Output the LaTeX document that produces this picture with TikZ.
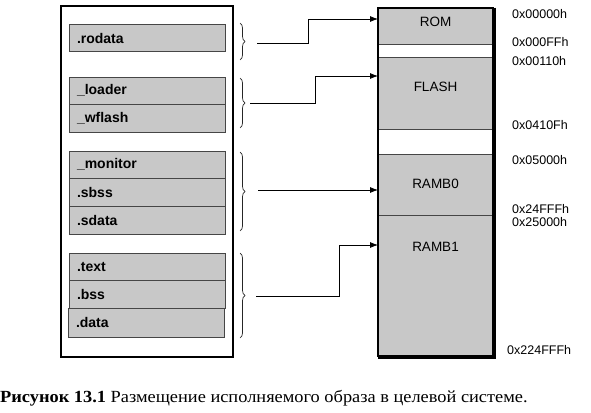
\documentclass[tikz,border=0pt]{standalone}
\usepackage{fontspec}
\setmainfont{Liberation Sans}
\newfontfamily\capfont[FakeStretch=1.08]{Liberation Serif}
\usetikzlibrary{decorations.pathreplacing,arrows.meta}
\definecolor{boxgray}{RGB}{200,200,200}
\definecolor{edgegray}{RGB}{70,70,70}
\begin{document}
\begin{tikzpicture}[x=1pt,y=-1pt,
  sect/.style={draw=edgegray,line width=1pt,fill=boxgray,minimum height=27pt,
    text width=140pt,align=left,inner xsep=8pt,inner ysep=0pt,
    font=\fontsize{14}{16}\selectfont\bfseries,anchor=center},
  memblk/.style={draw=edgegray,line width=0.8pt,fill=boxgray,minimum width=115pt,inner sep=0pt},
  gapblk/.style={draw=edgegray,line width=0.8pt,fill=white,minimum width=115pt,inner sep=0pt},
  memlbl/.style={font=\fontsize{13.5}{15}\selectfont,inner sep=0pt},
  addr/.style={font=\fontsize{12.5}{14}\selectfont,anchor=west,inner sep=0pt},
  brc/.style={decorate,decoration={brace,amplitude=5pt},line width=0.7pt,black!85},
  arr/.style={line width=0.8pt,-{Latex[length=8pt,width=6pt]}}]
\useasboundingbox (0,0) rectangle (591,412);

% left container
\node[draw,line width=2pt,minimum width=172pt,minimum height=351pt,inner sep=0pt] (img) at (147,181.5) {};

% sections
\node[sect,minimum height=27pt] (rodata) at (147,38.5) {.rodata};
\node[sect,minimum height=27pt] (loader) at (147,90.5) {\_loader};
\node[sect,minimum height=28pt] (wflash) at (147,118) {\_wflash};
\node[sect,minimum height=27pt] (monitor) at (147,164.5) {\_monitor};
\node[sect,minimum height=28pt] (sbss) at (147,192) {.sbss};
\node[sect,minimum height=28pt] (sdata) at (147,220) {.sdata};
\node[sect,minimum height=27pt] (text) at (147,266.5) {.text};
\node[sect,minimum height=28pt] (bss) at (147,294) {.bss};
\node[sect,minimum height=29pt] (data) at (146,322.5) {.data};

% braces
\draw[brc] (240,23) -- (240,60);
\draw[brc] (240,78) -- (240,128);
\draw[brc] (240,152) -- (240,231);
\draw[brc] (240,253) -- (240,338);
\coordinate (b1) at (257,43);
\coordinate (b2) at (250,103);
\coordinate (b3) at (258,190);
\coordinate (b4) at (256,296);

% memory map
\node[memblk,minimum height=36pt] (rom) at (435.5,26) {};
\node[gapblk,minimum height=13pt] (gap1) at (435.5,50.5) {};
\node[memblk,minimum height=72pt] (flash) at (435.5,93) {};
\node[gapblk,minimum height=25pt] (gap2) at (435.5,141.5) {};
\node[memblk,minimum height=61pt] (ramb0) at (435.5,184.5) {};
\node[memblk,minimum height=141pt] (ramb1) at (435.5,285.5) {};
\draw[line width=2pt] (rom.north west) rectangle (ramb1.south east);
\draw[line width=1.5pt] ([xshift=1.5pt]rom.north east) -- ([xshift=1.5pt,yshift=-1.5pt]ramb1.south east) -- ([yshift=-1.5pt]ramb1.south west);

\node[memlbl] (lrom) at (435.5,22) {ROM};
\node[memlbl] (lflash) at (435.5,87) {FLASH};
\node[memlbl] (lramb0) at (435.5,184) {RAMB0};
\node[memlbl] (lramb1) at (435.5,247) {RAMB1};

\coordinate (e1) at (378,19);
\coordinate (e2) at (378,76);
\coordinate (e3) at (378,190);
\coordinate (e4) at (378,245);

\draw[arr] (b1) -- (308,43) |- (e1);
\draw[arr] (b2) -- (315,103) |- (e2);
\draw[arr] (b3) -- (e3);
\draw[arr] (b4) -- (339,296) |- (e4);

% addresses
\node[addr] (a1) at (512,14) {0x00000h};
\node[addr] (a2) at (512,42) {0x000FFh};
\node[addr] (a3) at (512,61) {0x00110h};
\node[addr] (a4) at (512,125) {0x0410Fh};
\node[addr] (a5) at (512,160) {0x05000h};
\node[addr] (a6) at (512,209) {0x24FFFh};
\node[addr] (a7) at (512,222) {0x25000h};
\node[addr] (a8) at (507,350) {0x224FFFh};

% caption
\node[anchor=base west,inner sep=0pt,font=\capfont\fontsize{17}{19}\selectfont] (cap) at (0,402)
  {\textbf{Рисунок 13.1} Размещение исполняемого образа в целевой системе.};
\end{tikzpicture}
\end{document}
